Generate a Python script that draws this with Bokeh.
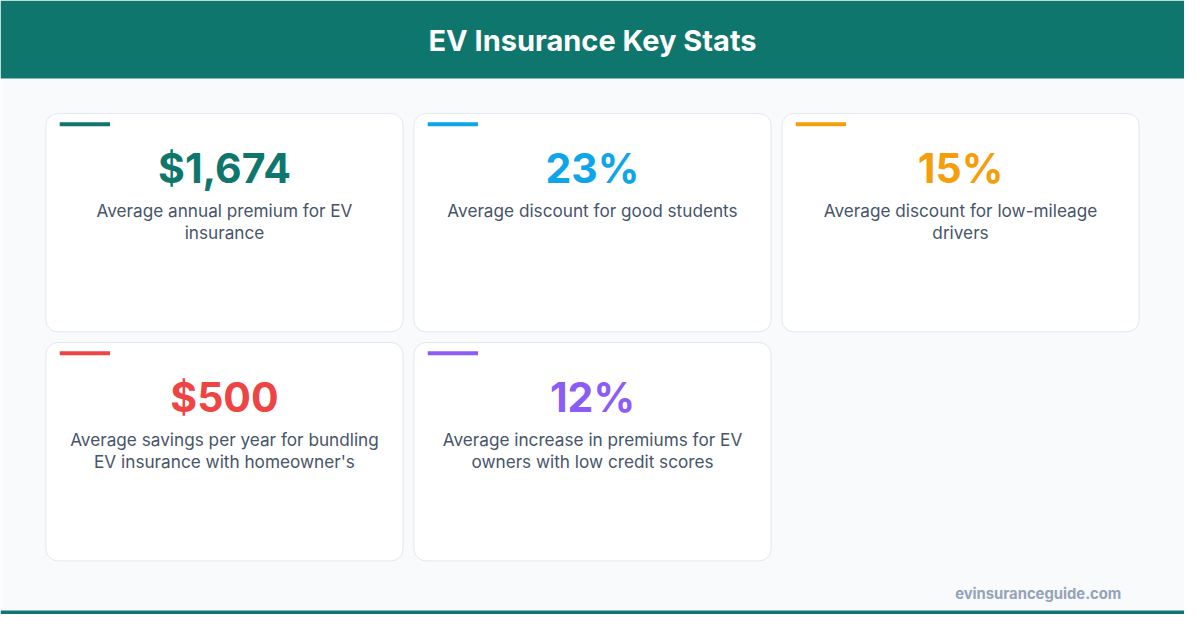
from bokeh.plotting import figure
from bokeh.models import ColumnDataSource, Range1d
from bokeh.core.properties import value
from bokeh.embed import file_html
from bokeh.resources import INLINE

# chart data
title = "EV Insurance Key Stats"
stat_values = ["$1,674", "23%", "15%", "$500", "12%"]
stat_labels = [
    "Average annual premium for EV\ninsurance",
    "Average discount for good students",
    "Average discount for low-mileage\ndrivers",
    "Average savings per year for bundling\nEV insurance with homeowner's",
    "Average increase in premiums for EV\nowners with low credit scores",
]
stat_colors = ["#0f766e", "#0ea5e9", "#f59e0b", "#ef4444", "#8b5cf6"]
source_note = "evinsuranceguide.com"

# layout in design pixels (1200 x 630, y grows downward)
W, H = 1200, 630
card_w, card_h, gap = 362, 224, 11
x0, y0 = 46, 116
ncols = 3

FONT = value("Inter")
TEAL = "#0f766e"

p = figure(width=1184, height=614, output_backend="svg", toolbar_location=None,
           x_range=Range1d(0, W), y_range=Range1d(H, 0),
           min_border=0, background_fill_color="#f8fafc", border_fill_color="#f8fafc")
p.axis.visible = False
p.grid.visible = False
p.outline_line_color = None

# header and bottom strip
p.quad(left=[0], right=[W], top=[0], bottom=[80], fill_color=TEAL, line_color=None)
p.quad(left=[0], right=[W], top=[626], bottom=[H], fill_color=TEAL, line_color=None)
p.text(x=[W / 2], y=[41], text=[title], text_font=FONT, text_font_style="bold",
       text_font_size="29px", text_color="white", text_align="center", text_baseline="middle")

lefts = [x0 + (i % ncols) * (card_w + gap) for i in range(len(stat_values))]
tops = [y0 + (i // ncols) * (card_h + gap) for i in range(len(stat_values))]

src = ColumnDataSource(dict(
    left=lefts,
    right=[l + card_w for l in lefts],
    top=tops,
    bottom=[t + card_h for t in tops],
    cx=[l + card_w / 2 for l in lefts],
    bar_l=[l + 14 for l in lefts],
    bar_r=[l + 65 for l in lefts],
    bar_t=[t + 9 for t in tops],
    bar_b=[t + 13 for t in tops],
    num_y=[t + 56 for t in tops],
    lab_y=[t + 89 for t in tops],
    value=stat_values,
    label=stat_labels,
    color=stat_colors,
))

# cards
p.quad(left="left", right="right", top="top", bottom="bottom", source=src,
       fill_color="white", line_color="#e2e8f0", line_width=1, border_radius=12)
p.quad(left="bar_l", right="bar_r", top="bar_t", bottom="bar_b", source=src,
       fill_color="color", line_color=None)
p.text(x="cx", y="num_y", text="value", source=src, text_font=FONT, text_font_style="bold",
       text_font_size="41px", text_color="color", text_align="center", text_baseline="middle")
p.text(x="cx", y="lab_y", text="label", source=src, text_font=FONT,
       text_font_size="17.2px", text_color="#475569", text_align="center", text_baseline="top",
       text_line_height=1.05)

# footer
p.text(x=[1136], y=[609], text=[source_note], text_font=FONT, text_font_style="bold",
       text_font_size="14.8px", text_color="#94a3b8", text_align="right", text_baseline="middle")

open("out.html", "w").write(file_html(p, INLINE))
